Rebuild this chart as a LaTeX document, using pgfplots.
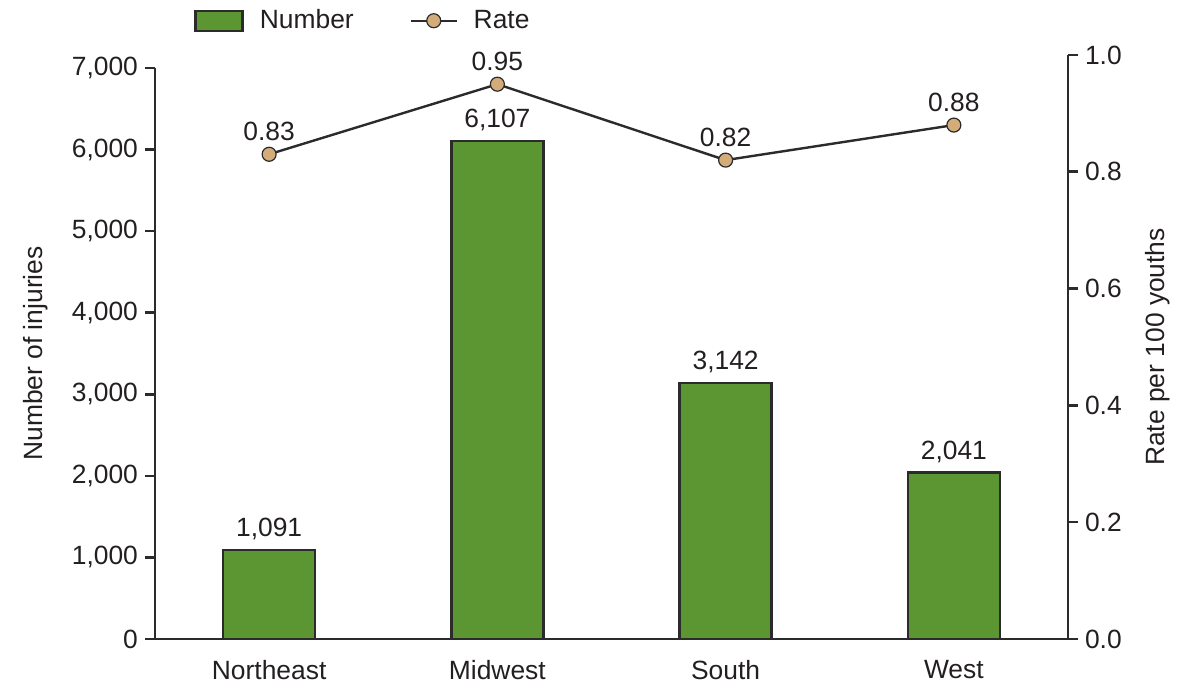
\documentclass[border=0pt]{standalone}
\usepackage{pgfplots}
\pgfplotsset{compat=1.18}
\usepackage{fontspec}
\setmainfont{Liberation Sans}
\definecolor{barG}{HTML}{5B9632}
\definecolor{edge}{HTML}{2B2B2B}
\definecolor{tanM}{HTML}{D4AC7A}
\definecolor{txt}{HTML}{231F20}
\pgfplotsset{
  boxlegend/.style={legend image code/.code={\draw[fill=barG, draw=edge, line width=1.2pt] (0cm,-0.176cm) rectangle (0.83cm,0.176cm);}},
  linelegend/.style={legend image code/.code={\draw[mark repeat=2,mark phase=2,##1] plot coordinates {(0cm,0cm)(0.4cm,0cm)(0.8cm,0cm)};}},
}
\begin{document}
\begin{tikzpicture}[font=\fontsize{13.2}{15}\selectfont]
\useasboundingbox (-77.5pt,-23pt) rectangle (516.5pt,319.5pt);
\begin{axis}[
 at={(0,0)}, anchor=south west, scale only axis,
 width=456.5pt, height=285.5pt,
 xmin=-0.5, xmax=3.5, ymin=0, ymax=7000,
 axis x line=bottom, axis y line=left,
 axis line style={-, line width=1.3pt, draw=edge},
 xtick={0,1,2,3}, xticklabels={Northeast,Midwest,South,West},
 xtick style={draw=none},
 xticklabel style={yshift=-2pt},
 ytick={0,1000,2000,3000,4000,5000,6000,7000},
 tick align=outside, major tick length=5pt,
 ytick style={line width=1.3pt, draw=edge},
 /pgf/number format/assume math mode=true,
 /pgf/number format/1000 sep={,},
 ylabel={Number of injuries},
 ylabel style={at={(axis description cs:-0.131,0.5)}, anchor=center},
 every tick label/.append style={text=txt},
 label style={text=txt},
 clip=false,
]
\addplot[ybar, bar width=46pt, fill=barG, draw=edge, line width=1.2pt,
  nodes near coords, nodes near coords style={text=txt, yshift=1pt}]
  coordinates {(0,1091) (1,6107) (2,3142) (3,2041)};
\end{axis}
\begin{axis}[
 at={(0,0)}, anchor=south west, scale only axis,
 width=456.5pt, height=292pt,
 xmin=-0.5, xmax=3.5, ymin=0, ymax=1,
 axis x line=none, axis y line=right,
 axis line style={-, line width=1.3pt, draw=edge},
 ytick={0,0.2,0.4,0.6,0.8,1},
 tick align=outside, major tick length=5pt,
 ytick style={line width=1.3pt, draw=edge},
 /pgf/number format/assume math mode=true,
 yticklabel style={/pgf/number format/.cd, fixed, fixed zerofill, precision=1},
 every tick label/.append style={text=txt},
 label style={text=txt},
 ylabel={Rate per 100 youths},
 ylabel style={at={(axis description cs:1.0986,0.5)}, anchor=center},
 legend style={at={(axis description cs:0.036,1.092)}, anchor=north west, draw=none, fill=none,
   legend columns=2, text=txt,
   /tikz/every odd column/.append style={column sep=6pt},
   /tikz/every even column/.append style={column sep=26pt},
   nodes={inner sep=2pt}},
 clip=false,
]
\addlegendimage{boxlegend}
\addlegendentry{Number}
\addplot[line width=1.2pt, color=edge, mark=*, mark size=3.5pt,
  mark options={fill=tanM, draw=edge, line width=0.6pt},
  linelegend,
  nodes near coords, point meta=explicit,
  nodes near coords style={text=txt, yshift=3pt, /pgf/number format/.cd, fixed, fixed zerofill, precision=2}]
  coordinates {(0,0.83)[0.83] (1,0.95)[0.95] (2,0.82)[0.82] (3,0.88)[0.88]};
\addlegendentry{Rate}
\end{axis}
\end{tikzpicture}
\end{document}
